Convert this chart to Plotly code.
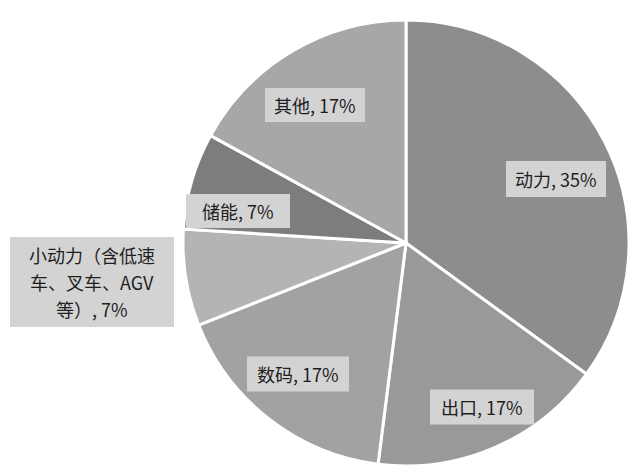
import plotly.graph_objects as go

# Battery demand breakdown by application
segments = ["动力", "出口", "数码", "小动力（含低速车、叉车、AGV等）", "储能", "其他"]
shares = [35, 17, 17, 7, 7, 17]
label_lines = [
    ["动力, 35%"],
    ["出口, 17%"],
    ["数码, 17%"],
    ["小动力（含低速", "车、叉车、AGV", "等）, 7%"],
    ["储能, 7%"],
    ["其他, 17%"],
]

slice_colors = ["#8d8d8d", "#999999", "#a2a2a2", "#b4b4b4", "#7d7d7d", "#a7a7a7"]

W, H = 629, 469
# label box centres and sizes in pixels (x from left, y from top)
label_px = [(556, 179), (482, 407), (298, 374), (92, 282), (238, 211), (315, 105)]
box_size = [(100, 36), (104, 35), (102, 35), (164, 90), (104, 34), (100, 34)]
line_gap = 27
box_fill = "#d3d3d3"
font = dict(family="Noto Sans CJK SC", size=18, color="#1e1e1e")

fig = go.Figure(
    go.Pie(
        labels=segments,
        values=shares,
        sort=False,
        direction="clockwise",
        rotation=0,
        marker=dict(colors=slice_colors, line=dict(color="white", width=3)),
        textinfo="none",
        hoverinfo="label+percent",
        showlegend=False,
        domain=dict(x=[183 / W, 1.0], y=[3 / H, 449 / H]),
    )
)

for lines, (cx, cy), (bw, bh) in zip(label_lines, label_px, box_size):
    fig.add_shape(
        type="rect",
        xref="paper",
        yref="paper",
        x0=(cx - bw / 2) / W,
        x1=(cx + bw / 2) / W,
        y0=1 - (cy + bh / 2) / H,
        y1=1 - (cy - bh / 2) / H,
        fillcolor=box_fill,
        line=dict(width=0),
        layer="above",
    )
    n = len(lines)
    for i, line in enumerate(lines):
        ly = cy + (i - (n - 1) / 2) * line_gap
        fig.add_annotation(
            x=cx / W,
            y=1 - ly / H,
            xref="paper",
            yref="paper",
            text=line,
            showarrow=False,
            xanchor="center",
            yanchor="middle",
            font=font,
        )

fig.update_layout(
    width=W,
    height=H,
    margin=dict(l=0, r=0, t=0, b=0),
    paper_bgcolor="white",
    plot_bgcolor="white",
)

fig.write_html("out.html")
